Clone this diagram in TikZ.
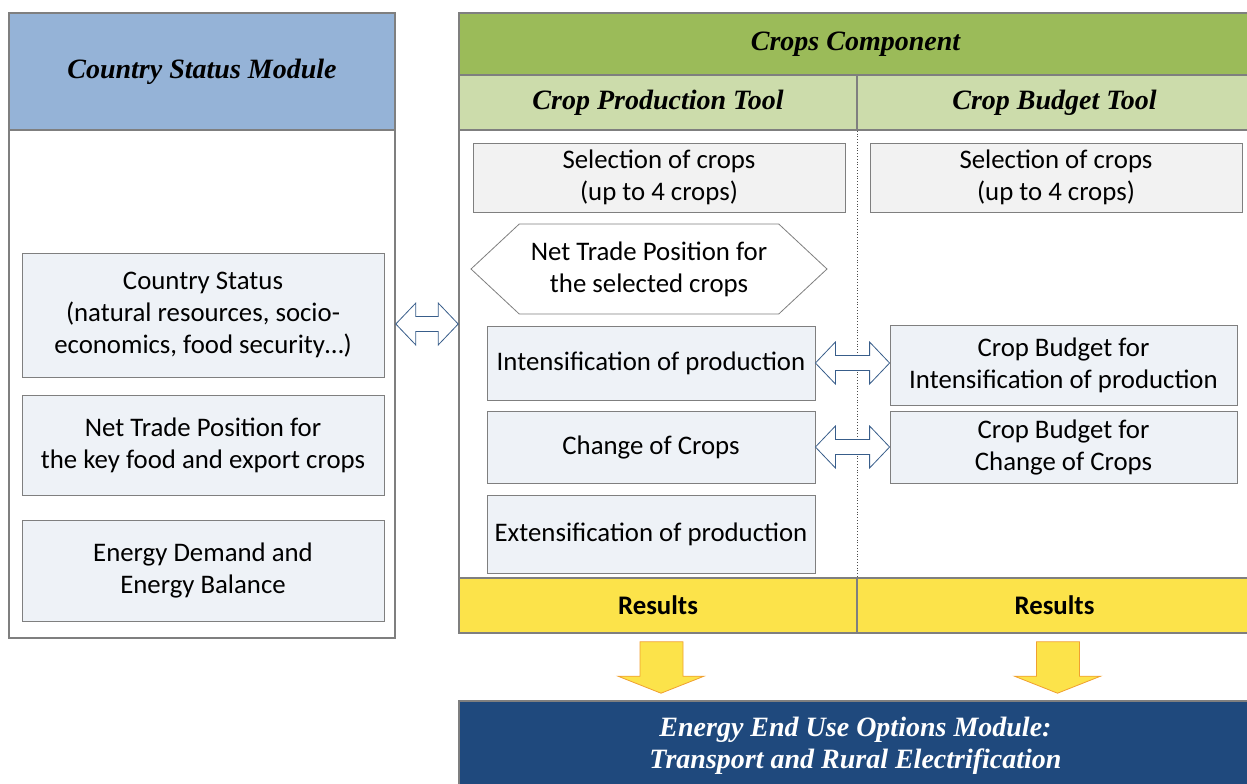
\documentclass[tikz,border=0pt]{standalone}
\usepackage{fontspec}
\setmainfont{Carlito}
\newfontfamily\headfont{Liberation Serif}
\usetikzlibrary{calc,shapes.symbols}
\definecolor{modblue}{HTML}{95B3D7}
\definecolor{compgreen}{HTML}{9BBB59}
\definecolor{toolgreen}{HTML}{CCDCAB}
\definecolor{paleblue}{HTML}{EEF2F7}
\definecolor{palegray}{HTML}{F2F2F2}
\definecolor{resyellow}{HTML}{FCE34A}
\definecolor{darkblue}{HTML}{1F497D}
\definecolor{linegray}{HTML}{7F7F7F}
\definecolor{arrowblue}{HTML}{385D8A}
\definecolor{arroworange}{HTML}{F0A030}
\tikzset{
	wh/.style 2 args={minimum width=#1*0.5pt,minimum height=#2*0.5pt},
	frame/.style={draw=linegray,thick,inner sep=0pt},
	head/.style={frame,align=center,font=\headfont\bfseries\itshape\fontsize{14}{16}\selectfont},
	box/.style={draw=linegray,fill=paleblue,align=center,inner sep=0pt,font=\fontsize{13.4}{16}\selectfont},
	twoway/.style={draw=arrowblue,fill=white,line join=miter},
	downarrow/.style={draw=arroworange,fill=resyellow}
}
% double arrow between two points on one line
\newcommand{\TwoWay}[2]{
	\draw[twoway] let \p1=(#1), \p2=(#2) in
	(\x1,\y1) -- (\x1+10pt,\y1+10.5pt) -- (\x1+10pt,\y1+3.75pt) -- (\x2-10pt,\y1+3.75pt)
	-- (\x2-10pt,\y1+10.5pt) -- (\x2,\y1) -- (\x2-10pt,\y1-10.5pt) -- (\x2-10pt,\y1-3.75pt)
	-- (\x1+10pt,\y1-3.75pt) -- (\x1+10pt,\y1-10.5pt) -- cycle;
}
% block arrow from one node down to another
\newcommand{\DownArrow}[2]{
	\draw[downarrow] let \p1=(#1), \p2=(#2) in
	(\x1-9pt,\y1-4pt) -- (\x1+12.5pt,\y1-4pt) -- (\x1+12.5pt,\y2+12pt) -- (\x1+23pt,\y2+12pt)
	-- (\x1+1.5pt,\y2+3.5pt) -- (\x1-20pt,\y2+12pt) -- (\x1-9pt,\y2+12pt) -- cycle;
}
\begin{document}
\begin{tikzpicture}[x=0.5pt,y=-0.5pt]
	\useasboundingbox (0,0) rectangle (1247,783);
	%country status module
	\node[frame,wh={386}{625}] (csmod) at (202,325.5) {};
	\node[head,fill=modblue,wh={386}{117}] (csmhead) at (202,71.5) {Country Status Module};
	\node[box,wh={362}{124}] (cstat) at (203,315) {Country Status\\(natural resources, socio-\\economics, food security\dots)};
	\node[box,wh={362}{100}] (ntkey) at (203,445) {Net Trade Position for\\the key food and export crops};
	\node[box,wh={362}{101}] (edem) at (203,570.5) {Energy Demand and\\Energy Balance};
	%crops component
	\node[frame,wh={793}{620}] (ccomp) at (855.5,323) {};
	\node[head,fill=compgreen,wh={793}{62}] (cchead) at (855.5,44) {Crops Component};
	\node[head,fill=toolgreen,wh={398}{55}] (cptool) at (658,102.5) {Crop Production Tool};
	\node[head,fill=toolgreen,wh={395}{55}] (cbtool) at (1054.5,102.5) {Crop Budget Tool};
	%production tool
	\node[box,fill=palegray,wh={372}{69}] (selA) at (659,177.5) {Selection of crops\\(up to 4 crops)};
	\node[box,fill=white,signal,signal to=east and west,signal pointer angle=86,wh={356}{90}] (ntsel) at (649,269) {Net Trade Position for\\the selected crops};
	\node[box,wh={328}{74}] (intens) at (651,363) {Intensification of production};
	\node[box,wh={328}{72}] (chg) at (651,447) {Change of Crops};
	\node[box,wh={328}{78}] (extens) at (651,534) {Extensification of production};
	%budget tool
	\node[box,fill=palegray,wh={372}{69}] (selB) at (1056,177.5) {Selection of crops\\(up to 4 crops)};
	\node[box,wh={347}{80}] (bint) at (1063.5,365) {Crop Budget for\\Intensification of production};
	\node[box,wh={347}{72}] (bchg) at (1063.5,447) {Crop Budget for\\Change of Crops};
	%results
	\node[frame,fill=resyellow,wh={398}{55},font=\bfseries\fontsize{13.4}{16}\selectfont] (resA) at (658,605.5) {Results};
	\node[frame,fill=resyellow,wh={395}{55},font=\bfseries\fontsize{13.4}{16}\selectfont] (resB) at (1054.5,605.5) {Results};
	\draw[densely dotted,black!70] (cptool.south east) -- (resA.north east);
	%end use module
	\node[head,fill=darkblue,text=white,wh={793}{90}] (eeuo) at (855.5,746) {Energy End Use Options Module:\\Transport and Rural Electrification};
	%arrows
	\TwoWay{$(cstat.east -| csmod.east)+(0,9)$}{$(cstat.east -| ccomp.west)+(0,9)$}
	\TwoWay{intens.east}{bint.west |- intens.east}
	\TwoWay{chg.east}{bchg.west}
	\DownArrow{resA.south}{eeuo.north -| resA.south}
	\DownArrow{resB.south}{eeuo.north -| resB.south}
\end{tikzpicture}
\end{document}
